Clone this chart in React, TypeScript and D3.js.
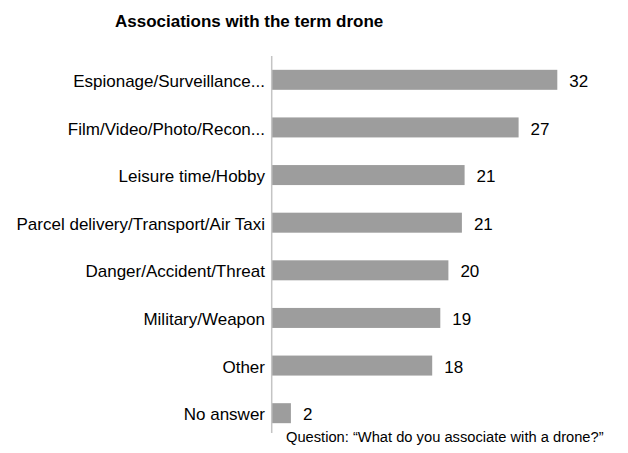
import React from "react";
import * as d3 from "d3";

const categories = [
  "Espionage/Surveillance...",
  "Film/Video/Photo/Recon...",
  "Leisure time/Hobby",
  "Parcel delivery/Transport/Air Taxi",
  "Danger/Accident/Threat",
  "Military/Weapon",
  "Other",
  "No answer",
];
const values = [31.7, 27.4, 21.4, 21.1, 19.6, 18.7, 17.8, 2.1];
const title = "Associations with the term drone";
const note = "Question: \u201CWhat do you associate with a drone?\u201D";

const W = 628;
const H = 453;
const FONT = "Arial, 'Liberation Sans', Helvetica, sans-serif";

export default function App() {
  const x0 = 272;
  const x = d3.scaleLinear().domain([0, 32]).range([x0, x0 + 32 * 9.0]);
  const y = d3
    .scaleBand<string>()
    .domain(categories)
    .range([56, 437])
    .paddingInner(0.58)
    .paddingOuter(0.29);
  const fmt = d3.format(".0f");
  return (
    <svg
      width={W}
      height={H}
      style={{ position: "absolute", left: 0, top: 0, background: "#fff" }}
      fontFamily={FONT}
    >
      <text x={115} y={27} fontSize={17} fontWeight="bold" fill="#000">
        {title}
      </text>
      {categories.map((c, i) => {
        const yy = y(c)!;
        const bw = y.bandwidth();
        return (
          <g key={c}>
            <rect x={x0} y={yy} width={x(values[i]) - x0} height={bw} fill="#9d9d9d" />
            <text
              x={265}
              y={yy + bw / 2}
              dy="0.42em"
              textAnchor="end"
              fontSize={17}
              fill="#000"
            >
              {c}
            </text>
            <text x={x(values[i]) + 12} y={yy + bw / 2} dy="0.42em" fontSize={17} fill="#000">
              {fmt(values[i])}
            </text>
          </g>
        );
      })}
      <line x1={271.7} x2={271.7} y1={56} y2={433} stroke="#c4c4c4" strokeWidth={1.5} />
      <text x={286} y={442} fontSize={14.7} fill="#000">
        {note}
      </text>
    </svg>
  );
}
